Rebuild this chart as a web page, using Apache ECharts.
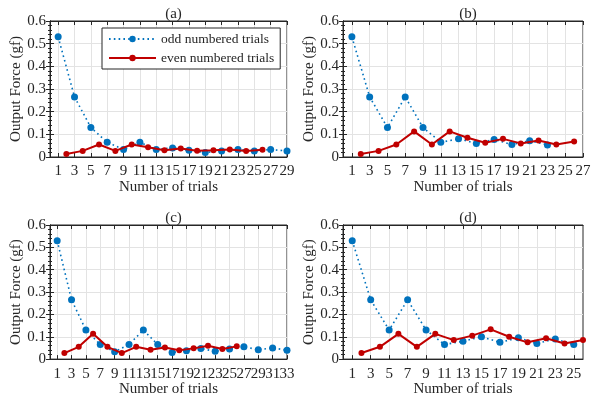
<!DOCTYPE html>
<html>
<head>
<meta charset="utf-8">
<script src="https://cdn.jsdelivr.net/npm/echarts@6/dist/echarts.min.js"></script>
<style>
  html, body { margin: 0; padding: 0; background: #fff; }
  #main { width: 594px; height: 398px; }
</style>
</head>
<body>
<div id="main"></div>
<script>
// output force (gf); odd trials are 1,3,5..., even trials 2,4,6...
var panelTitles = ["(a)", "(b)", "(c)", "(d)"];
var xMaxes = [29, 27, 33, 26];

var aOdd = [0.53, 0.265, 0.13, 0.065, 0.033, 0.065, 0.033, 0.04, 0.03, 0.02, 0.027, 0.033, 0.027, 0.033, 0.027];
var aEven = [0.013, 0.027, 0.055, 0.027, 0.055, 0.043, 0.03, 0.038, 0.028, 0.03, 0.033, 0.027, 0.032];

var bOdd = [0.53, 0.265, 0.13, 0.265, 0.13, 0.065, 0.08, 0.06, 0.077, 0.055, 0.072, 0.053];
var bEven = [0.013, 0.027, 0.055, 0.113, 0.055, 0.113, 0.085, 0.063, 0.08, 0.06, 0.073, 0.055, 0.068];

var cOdd = [0.53, 0.265, 0.13, 0.065, 0.033, 0.065, 0.13, 0.065, 0.03, 0.037, 0.047, 0.035, 0.045, 0.055, 0.042, 0.05, 0.04];
var cEven = [0.027, 0.055, 0.113, 0.055, 0.027, 0.055, 0.042, 0.052, 0.04, 0.048, 0.06, 0.045, 0.057];

var dOdd = [0.53, 0.265, 0.13, 0.265, 0.13, 0.065, 0.08, 0.1, 0.075, 0.095, 0.07, 0.09, 0.065];
var dEven = [0.027, 0.055, 0.113, 0.055, 0.113, 0.085, 0.105, 0.133, 0.1, 0.075, 0.093, 0.07, 0.085];

var oddSets = [aOdd, bOdd, cOdd, dOdd];
var evenSets = [aEven, bEven, cEven, dEven];

var FONT = "'Liberation Serif', 'Times New Roman', serif";
var INK = "#262626";
var BLUE = "#0072BD";
var RED = "#C00000";

var grids = [
  { left: 50, top: 21, width: 237, height: 136 },
  { left: 343, top: 21, width: 240, height: 136 },
  { left: 50, top: 225, width: 237, height: 136 },
  { left: 343, top: 225, width: 240, height: 136 }
];

function oddTicks(max) {
  var t = [];
  for (var v = 1; v <= max; v += 2) t.push(v);
  return t;
}

var xAxes = [], yAxes = [], series = [], titles = [];

for (var p = 0; p < 4; p++) {
  var ticks = oddTicks(xMaxes[p]);
  // labels split over two axes so that crowded ones are never dropped
  var labelsA = ticks.filter(function (v, i) { return i % 2 === 0; });
  var labelsB = ticks.filter(function (v, i) { return i % 2 === 1; });
  grids[p].show = true;
  grids[p].borderColor = INK;
  grids[p].borderWidth = 1;
  grids[p].backgroundColor = "#fff";

  var xLabel = {
    margin: 7, showMinLabel: true, showMaxLabel: true, hideOverlap: false,
    fontFamily: FONT, fontSize: 15, color: INK
  };

  // bottom x axis (data)
  xAxes.push({
    type: "value",
    gridIndex: p,
    min: 0,
    max: xMaxes[p],
    name: "Number of trials",
    nameLocation: "middle",
    nameGap: 21,
    nameTextStyle: { fontFamily: FONT, fontSize: 15, color: INK },
    axisLine: { show: true, lineStyle: { color: INK, width: 1 } },
    axisTick: { show: true, inside: true, length: 4, customValues: ticks, lineStyle: { color: INK } },
    axisLabel: Object.assign({ customValues: labelsA }, xLabel),
    splitLine: { show: true, lineStyle: { color: "#e3e3e3", width: 1 } }
  });
  // second bottom axis, only for the other half of the labels
  xAxes.push({
    type: "value",
    gridIndex: p,
    position: "bottom",
    min: 0,
    max: xMaxes[p],
    axisLine: { show: false },
    axisTick: { show: false },
    axisLabel: Object.assign({ customValues: labelsB }, xLabel),
    splitLine: { show: false }
  });
  // top x axis (frame ticks only)
  xAxes.push({
    type: "value",
    gridIndex: p,
    position: "top",
    min: 0,
    max: xMaxes[p],
    axisLine: { show: true, lineStyle: { color: INK, width: 1 } },
    axisTick: { show: true, inside: true, length: 4, customValues: ticks, lineStyle: { color: INK } },
    axisLabel: { show: false },
    splitLine: { show: false }
  });
  // left y axis
  yAxes.push({
    type: "value",
    gridIndex: p,
    min: 0,
    max: 0.6,
    interval: 0.1,
    name: "Output Force (gf)",
    nameLocation: "middle",
    nameGap: 22,
    nameTextStyle: { fontFamily: FONT, fontSize: 15, color: INK },
    axisLine: { show: true, lineStyle: { color: INK, width: 1 } },
    axisTick: { show: true, inside: true, length: 4, lineStyle: { color: INK } },
    minorTick: { show: true, splitNumber: 5, length: 2, lineStyle: { color: INK } },
    axisLabel: {
      margin: 4,
      fontFamily: FONT, fontSize: 15, color: INK,
      formatter: function (v) { return v === 0 ? "0" : v.toFixed(1); }
    },
    splitLine: { show: true, lineStyle: { color: "#e3e3e3", width: 1 } }
  });
  // right y axis (frame ticks only)
  yAxes.push({
    type: "value",
    gridIndex: p,
    position: "right",
    min: 0,
    max: 0.6,
    interval: 0.1,
    axisLine: { show: true, lineStyle: { color: INK, width: 1 } },
    axisTick: { show: true, inside: true, length: 4, lineStyle: { color: INK } },
    minorTick: { show: true, splitNumber: 5, length: 2, lineStyle: { color: INK } },
    axisLabel: { show: false },
    splitLine: { show: false }
  });

  series.push({
    name: "odd numbered trials",
    type: "line",
    xAxisIndex: p * 3,
    yAxisIndex: p * 2,
    data: oddSets[p].map(function (v, i) { return [2 * i + 1, v]; }),
    symbol: "circle",
    symbolSize: 7,
    itemStyle: { color: BLUE },
    lineStyle: { color: BLUE, width: 1.6, type: [1.6, 3.2] },
    z: 3
  });
  series.push({
    name: "even numbered trials",
    type: "line",
    xAxisIndex: p * 3,
    yAxisIndex: p * 2,
    data: evenSets[p].map(function (v, i) { return [2 * i + 2, v]; }),
    symbol: "circle",
    symbolSize: 6,
    itemStyle: { color: RED },
    lineStyle: { color: RED, width: 2 },
    z: 4
  });

  titles.push({
    text: panelTitles[p],
    left: grids[p].left + grids[p].width / 2,
    top: grids[p].top - 19,
    textAlign: "center",
    textStyle: { fontFamily: FONT, fontSize: 15, fontWeight: "normal", color: INK }
  });
}

var chart = echarts.init(document.getElementById("main"), null, { renderer: "canvas" });
chart.setOption({
  animation: false,
  backgroundColor: "#fff",
  title: titles,
  legend: {
    data: ["odd numbered trials", "even numbered trials"],
    orient: "vertical",
    left: 102,
    top: 28,
    padding: [4, 6, 4, 6],
    itemGap: 5,
    itemWidth: 47,
    itemHeight: 8,
    borderColor: INK,
    borderWidth: 1,
    backgroundColor: "#fff",
    selectedMode: false,
    textStyle: { fontFamily: FONT, fontSize: 13.5, color: INK }
  },
  grid: grids,
  xAxis: xAxes,
  yAxis: yAxes,
  series: series
});
</script>
</body>
</html>
